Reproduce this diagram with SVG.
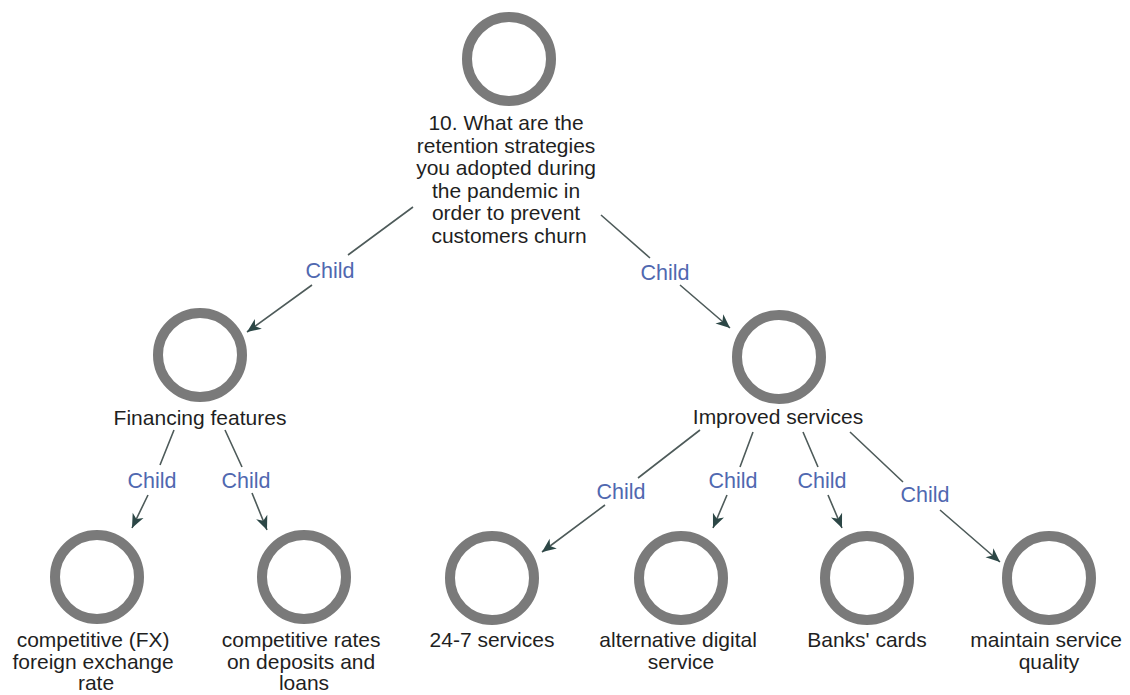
<svg xmlns="http://www.w3.org/2000/svg" width="1130" height="695" viewBox="0 0 1130 695">
  <style>
    .ring { fill: #ffffff; stroke: #7a7a7a; stroke-width: 10; }
    .lbl { font-family: "Liberation Sans", Arial, sans-serif; font-size: 21px; fill: #1f1f1f; text-anchor: middle; }
    .edge { fill: none; stroke: #4e5b5a; stroke-width: 1.6; marker-end: url(#arrow); }
    .elbl { font-family: "Liberation Sans", Arial, sans-serif; font-size: 21.5px; fill: #5068b0; text-anchor: middle; }
  </style>
  <defs>
    <marker id="arrow" markerUnits="userSpaceOnUse" markerWidth="16" markerHeight="14" viewBox="-15 -7 16 14" refX="0" refY="0" orient="auto">
      <path d="M0,0 L-14,-6 L-10,0 L-14,6 Z" fill="#2c4746"/>
    </marker>
  </defs>
  <rect width="1130" height="695" fill="#ffffff"/>

  <!-- connectors: each edge is split around its "Child" label -->
  <g id="connectors">
    <path class="edge" d="M413,207 L348,255 M312,285 L247,332"/>
    <text class="elbl" x="330" y="278">Child</text>

    <path class="edge" d="M601,215 L650,258 M680,285 L730,328"/>
    <text class="elbl" x="665" y="280">Child</text>

    <path class="edge" d="M174,430 L160,465 M148,495 L132,528"/>
    <text class="elbl" x="152" y="488">Child</text>

    <path class="edge" d="M225,430 L242,467 M252,493 L267,530"/>
    <text class="elbl" x="246" y="488">Child</text>

    <path class="edge" d="M700,430 L638,478 M605,505 L542,552"/>
    <text class="elbl" x="621" y="499">Child</text>

    <path class="edge" d="M753,432 L740,467 M727,495 L713,528"/>
    <text class="elbl" x="733" y="488">Child</text>

    <path class="edge" d="M803,432 L818,467 M828,495 L842,528"/>
    <text class="elbl" x="822" y="488">Child</text>

    <path class="edge" d="M850,432 L903,482 M940,510 L1000,562"/>
    <text class="elbl" x="925" y="502">Child</text>
  </g>

  <g id="root">
    <circle class="ring" cx="509" cy="59" r="42"/>
    <text class="lbl">
      <tspan x="509" y="130">10. What are the</tspan>
      <tspan x="509" y="152.5">retention strategies</tspan>
      <tspan x="509" y="175">you adopted during</tspan>
      <tspan x="509" y="197.5">the pandemic in</tspan>
      <tspan x="509" y="220">order to prevent</tspan>
      <tspan x="509" y="242.5">customers churn</tspan>
    </text>
  </g>

  <g id="financing-features">
    <circle class="ring" cx="200" cy="355" r="42"/>
    <text class="lbl" x="200" y="425">Financing features</text>
  </g>

  <g id="improved-services">
    <circle class="ring" cx="779" cy="357" r="42"/>
    <text class="lbl" x="778" y="424">Improved services</text>
  </g>

  <g id="fx-rate">
    <circle class="ring" cx="97" cy="577" r="42"/>
    <text class="lbl">
      <tspan x="96" y="647">competitive (FX)</tspan>
      <tspan x="96" y="669">foreign exchange</tspan>
      <tspan x="96" y="690">rate</tspan>
    </text>
  </g>

  <g id="deposit-loan-rates">
    <circle class="ring" cx="304" cy="577" r="42"/>
    <text class="lbl">
      <tspan x="304" y="647">competitive rates</tspan>
      <tspan x="304" y="669">on deposits and</tspan>
      <tspan x="304" y="690">loans</tspan>
    </text>
  </g>

  <g id="services-24-7">
    <circle class="ring" cx="492" cy="578" r="42"/>
    <text class="lbl" x="492" y="647">24-7 services</text>
  </g>

  <g id="digital-service">
    <circle class="ring" cx="681" cy="578" r="42"/>
    <text class="lbl">
      <tspan x="681" y="647">alternative digital</tspan>
      <tspan x="681" y="669">service</tspan>
    </text>
  </g>

  <g id="banks-cards">
    <circle class="ring" cx="867" cy="578" r="42"/>
    <text class="lbl" x="867" y="647">Banks' cards</text>
  </g>

  <g id="service-quality">
    <circle class="ring" cx="1049" cy="578" r="42"/>
    <text class="lbl">
      <tspan x="1049" y="647">maintain service</tspan>
      <tspan x="1049" y="669">quality</tspan>
    </text>
  </g>
</svg>
